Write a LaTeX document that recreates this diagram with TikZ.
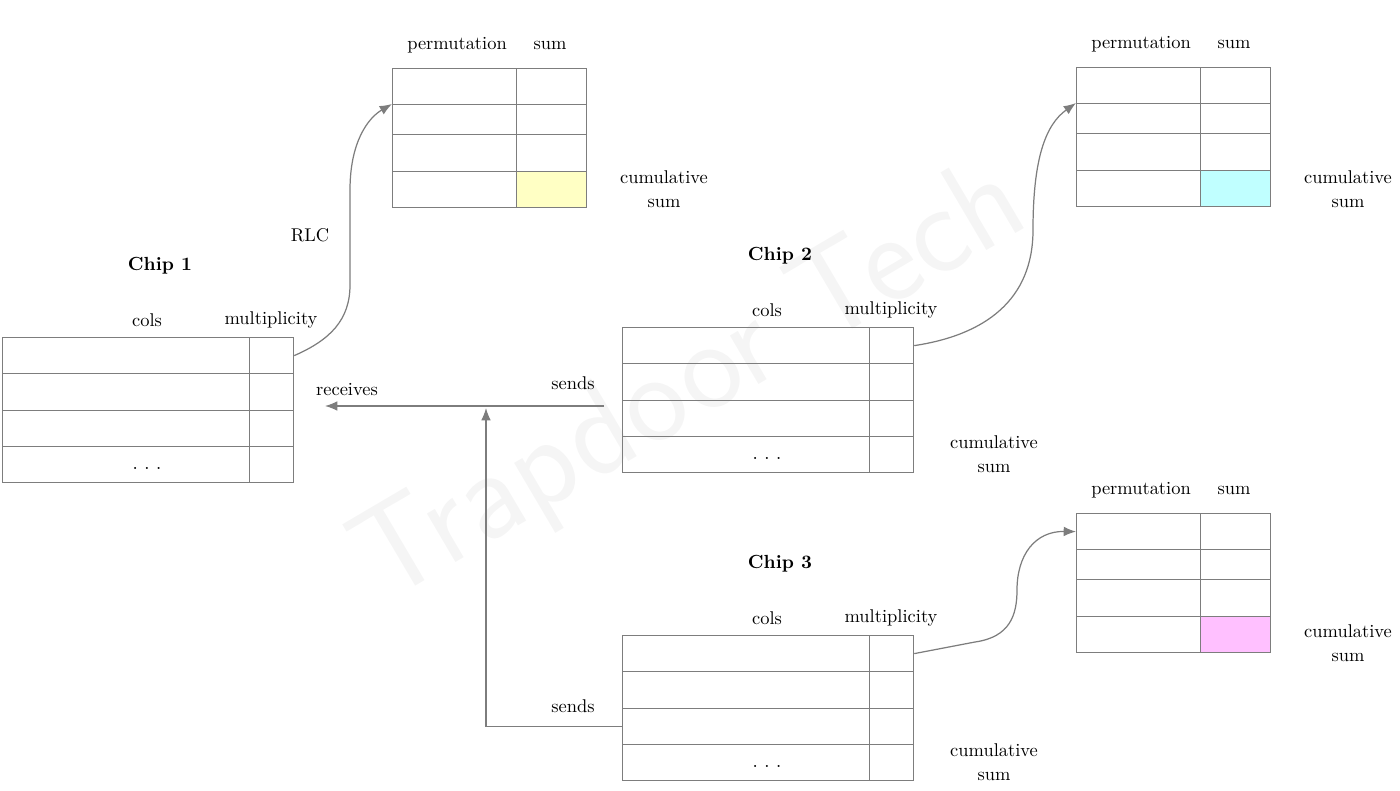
\documentclass[tikz,border=0pt]{standalone}
\usepackage{tikz}
\usetikzlibrary{arrows.meta,positioning}
\definecolor{linegray}{RGB}{125,125,125}
\definecolor{cumyellow}{RGB}{255,255,196}
\definecolor{cumcyan}{RGB}{192,255,255}
\definecolor{cumpink}{RGB}{255,192,255}

\begin{document}
\begin{tikzpicture}[
    x=0.02cm, y=-0.02cm,
    colcell/.style={draw=linegray, line width=0.7pt, minimum width=4.94cm, minimum height=0.725cm, inner sep=0pt, anchor=north west},
    mulcell/.style={colcell, minimum width=0.88cm},
    permcell/.style={colcell, minimum width=2.48cm},
    sumcell/.style={colcell, minimum width=1.40cm},
    lbl/.style={font=\fontsize{10.5}{13.6}\selectfont, inner sep=0pt, align=center},
    chip/.style={font=\fontsize{10.8}{13}\selectfont\bfseries, inner sep=0pt},
    link/.style={draw=linegray, line width=0.7pt, -{Latex[length=7pt,width=5.5pt]}}
]
    \useasboundingbox (0,0) rectangle (1400,791);

    % Watermark
    \node[rotate=30.5, font=\fontsize{74}{80}\selectfont\sffamily, text=black!4] (mark) at (692,386) {Trapdoor Tech};

    % Chip tables
    \foreach \t/\n/\x/\y in {A/1/2/337, B/2/622/327, C/3/622/635} {
        \foreach \r/\o/\h in {1/0/36, 2/36/37, 3/73/36, 4/109/36} {
            \node[colcell, minimum height=\h*0.02cm] (c\t\r) at (\x, {\y+\o}) {};
            \node[mulcell, minimum height=\h*0.02cm] (m\t\r) at ({\x+247}, {\y+\o}) {};
        }
        \node[chip] (title\t) at ({\x+158}, {\y-71}) {Chip \n};
        \node[lbl] (cols\t) at ({\x+145}, {\y-17}) {cols};
        \node[lbl] (mult\t) at ({\x+269}, {\y-17}) {multiplicity};
        \node[lbl, font=\fontsize{12}{13}\selectfont] (dots\t) at ({\x+145}, {\y+131}) {.\kern3.4pt.\kern3.4pt.};
    }
    \node[lbl] (cumB) at (994,454) {cumulative\\sum};
    \node[lbl] (cumC) at (994,762) {cumulative\\sum};

    % Permutation tables
    \foreach \t/\x/\y/\c/\d in {A/392/68/cumyellow/121, B/1076/67/cumcyan/122, C/1076/513/cumpink/130} {
        \foreach \r/\o/\h in {1/0/36, 2/36/30, 3/66/37} {
            \node[permcell, minimum height=\h*0.02cm] (p\t\r) at (\x, {\y+\o}) {};
            \node[sumcell, minimum height=\h*0.02cm] (s\t\r) at ({\x+124}, {\y+\o}) {};
        }
        \node[permcell] (p\t4) at (\x, {\y+103}) {};
        \node[sumcell, fill=\c] (s\t4) at ({\x+124}, {\y+103}) {};
        \node[lbl] (perm\t) at ({\x+65}, {\y-23}) {permutation};
        \node[lbl] (sum\t) at ({\x+158}, {\y-23}) {sum};
        \node[lbl] (cumsum\t) at ({\x+272}, {\y+\d}) {cumulative\\sum};
    }

    % Connectors
    \draw[link] (mA1.east) .. controls (330,340) and (350,320) .. (350,285)
        -- (350,190) .. controls (350,142) and (368,118) .. (pA2.north west);
    \node[lbl] (rlc) at (310,235) {RLC};

    \draw[link] (mB1.east) .. controls (985,335) and (1033,300) .. (1033,230)
        .. controls (1033,160) and (1045,125) .. (pB2.north west);

    \draw[link] (mC1.east) -- (975,642) .. controls (1010,637) and (1017,615) .. (1017,590)
        .. controls (1017,555) and (1035,531) .. (pC1.west);

    \coordinate (sendB) at (604,406);
    \coordinate (recvA) at (325,406);
    \coordinate (joinB) at (486,408);
    \draw[link] (sendB) -- (recvA);
    \draw[link] (cC3.west) -| (joinB);

    \node[lbl] (recv) at (347,390) {receives};
    \node[lbl] (sendsB) at (573,383) {sends};
    \node[lbl] (sendsC) at (573,706) {sends};
\end{tikzpicture}
\end{document}
